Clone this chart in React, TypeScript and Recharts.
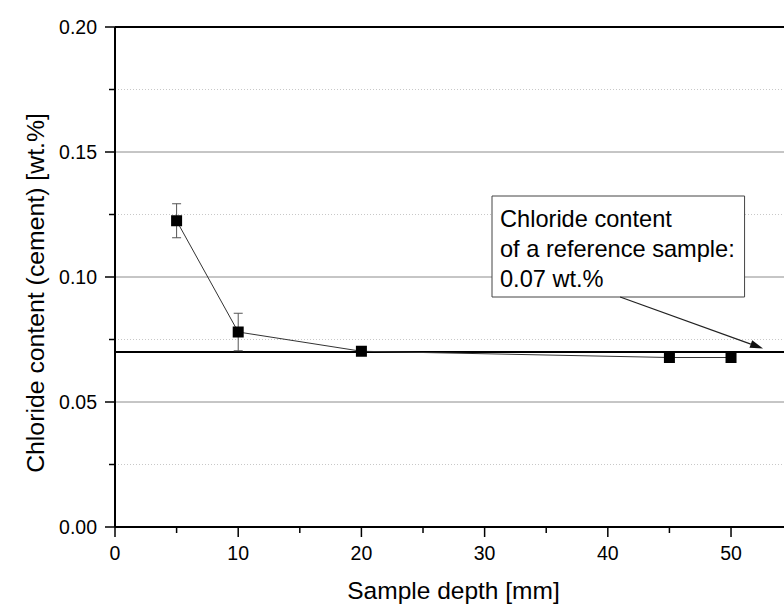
import React from 'react';
import {
  ComposedChart,
  Line,
  XAxis,
  YAxis,
  CartesianGrid,
  ReferenceLine,
  ReferenceArea,
  ErrorBar,
} from 'recharts';

// ---- data ----
const depths = [5, 10, 20, 45, 50];
const chloride = [0.1225, 0.078, 0.0703, 0.0678, 0.0678];
const errors = [0.0068, 0.0075, 0, 0, 0];

const xTicks = [0, 5, 10, 15, 20, 25, 30, 35, 40, 45, 50];
const xMajor = [0, 10, 20, 30, 40, 50];
const yTicks = [0, 0.025, 0.05, 0.075, 0.1, 0.125, 0.15, 0.175, 0.2];
const yMajor = [0, 0.05, 0.1, 0.15, 0.2];
const gridMajor = [0.05, 0.1, 0.15];
const gridMinor = [0.025, 0.075, 0.125, 0.175];

const referenceValue = 0.07;
const annotationLines = ['Chloride content', 'of a reference sample:', '0.07 wt.%'];
const annotationBox = { x1: 30.6, x2: 51.1, y1: 0.092, y2: 0.1324 };
const arrowSegment = [
  { x: 41.0, y: 0.092 },
  { x: 52.6, y: 0.0714 },
];

const data = depths.map((d, i) => ({ depth: d, value: chloride[i], err: errors[i] }));

const FONT = '"Liberation Sans", Arial, sans-serif';

const YTick = (props: any) => {
  const { x, y, payload } = props;
  const major = yMajor.some((v) => Math.abs(v - payload.value) < 1e-9);
  return (
    <g>
      <line x1={x} x2={x - (major ? 10 : 6)} y1={y} y2={y} stroke="#000" strokeWidth={1.5} />
      {major && (
        <text x={x - 18} y={y} dy="0.36em" textAnchor="end" fontSize={19.5} fontFamily={FONT} fill="#000">
          {Number(payload.value).toFixed(2)}
        </text>
      )}
    </g>
  );
};

const XTick = (props: any) => {
  const { x, y, payload } = props;
  const major = xMajor.includes(payload.value);
  return (
    <g>
      <line x1={x} x2={x} y1={y} y2={y + (major ? 10 : 6)} stroke="#000" strokeWidth={1.5} />
      {major && (
        <text x={x} y={y + 33} textAnchor="middle" fontSize={19.5} fontFamily={FONT} fill="#000">
          {payload.value}
        </text>
      )}
    </g>
  );
};

const SquareDot = (props: any) => {
  const { cx, cy, index } = props;
  if (cx == null || cy == null) return <g key={`d${index}`} />;
  return <rect key={`d${index}`} x={cx - 5.5} y={cy - 5.5} width={11} height={11} fill="#000" />;
};

const renderAnnotation = (props: any) => {
  const vb = props.viewBox || {};
  return (
    <text fontSize={23.6} fontFamily={FONT} fill="#000">
      {annotationLines.map((t, i) => (
        <tspan key={i} x={vb.x + 8} y={vb.y + 31 + i * 30}>
          {t}
        </tspan>
      ))}
    </text>
  );
};

const ArrowShape = (props: any) => {
  const { x1, y1, x2, y2 } = props;
  if ([x1, y1, x2, y2].some((v) => v == null || isNaN(v))) return <g />;
  const ang = Math.atan2(y2 - y1, x2 - x1);
  const len = 13;
  const hw = 4;
  const bx = x2 - len * Math.cos(ang);
  const by = y2 - len * Math.sin(ang);
  const px = -Math.sin(ang) * hw;
  const py = Math.cos(ang) * hw;
  return (
    <g>
      <line x1={x1} y1={y1} x2={bx} y2={by} stroke="#222" strokeWidth={1.2} />
      <polygon points={`${x2},${y2} ${bx + px},${by + py} ${bx - px},${by - py}`} fill="#111" />
    </g>
  );
};

const YTitle = (props: any) => {
  const vb = props.viewBox || {};
  const cx = 35;
  const cy = vb.y + vb.height / 2 + 16;
  return (
    <text
      x={cx}
      y={cy}
      transform={`rotate(-90, ${cx}, ${cy})`}
      textAnchor="middle"
      dominantBaseline="central"
      fontSize={24.8}
      fontFamily={FONT}
      fill="#000"
    >
      Chloride content (cement) [wt.%]
    </text>
  );
};

const XTitle = (props: any) => {
  const vb = props.viewBox || {};
  return (
    <text
      x={453.5}
      y={vb.y + 72}
      textAnchor="middle"
      fontSize={24.5}
      fontFamily={FONT}
      fill="#000"
    >
      Sample depth [mm]
    </text>
  );
};

export default function App() {
  return (
    <div style={{ position: 'fixed', left: 0, top: 0, width: 784, height: 604, background: '#fff' }}>
      <ComposedChart
        width={784}
        height={604}
        data={data}
        margin={{ top: 27, right: 0, bottom: 0, left: 0 }}
      >
        <CartesianGrid
          vertical={false}
          horizontalValues={gridMinor}
          stroke="#c8c8c8"
          strokeDasharray="1 2"
        />
        <CartesianGrid vertical={false} horizontalValues={gridMajor} stroke="#8c8c8c" strokeWidth={1} />
        <XAxis
          dataKey="depth"
          type="number"
          domain={[0, 54.3]}
          ticks={xTicks}
          allowDataOverflow
          height={77}
          tickSize={0}
          tickMargin={0}
          tickLine={false}
          axisLine={{ stroke: '#000', strokeWidth: 2 }}
          tick={<XTick />}
          interval={0}
          label={<XTitle />}
        />
        <YAxis
          type="number"
          domain={[0, 0.2]}
          ticks={yTicks}
          allowDataOverflow
          width={115}
          tickSize={0}
          tickMargin={0}
          tickLine={false}
          axisLine={{ stroke: '#000', strokeWidth: 2 }}
          tick={<YTick />}
          interval={0}
          label={<YTitle />}
        />
        <ReferenceArea
          x1={annotationBox.x1}
          x2={annotationBox.x2}
          y1={annotationBox.y1}
          y2={annotationBox.y2}
          fill="#fff"
          fillOpacity={1}
          stroke="#444"
          strokeWidth={1}
          label={renderAnnotation}
        />
        <ReferenceLine y={0.2} stroke="#000" strokeWidth={2} />
        <ReferenceLine y={referenceValue} stroke="#000" strokeWidth={2} />
        <ReferenceLine segment={arrowSegment} shape={<ArrowShape />} />
        <Line
          dataKey="value"
          stroke="#333"
          strokeWidth={1}
          dot={<SquareDot />}
          activeDot={false}
          isAnimationActive={false}
        >
          <ErrorBar dataKey="err" width={4.5} stroke="#555" strokeWidth={1} direction="y" />
        </Line>
      </ComposedChart>
    </div>
  );
}
